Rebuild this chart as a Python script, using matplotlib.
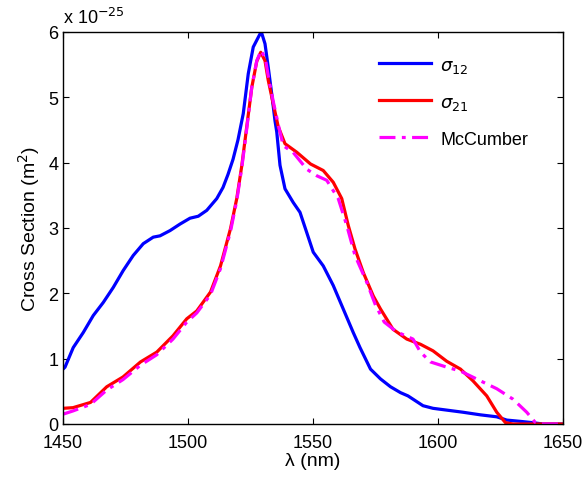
import matplotlib
matplotlib.use("Agg")
import matplotlib.pyplot as plt

plt.rcParams['font.family'] = ['Liberation Sans', 'DejaVu Sans']

# sigma_12 (absorption)
x12 = [1450, 1450.8, 1454.1, 1458.1, 1462.1, 1466.1, 1470.1, 1474.1, 1478.1, 1482.1,
       1486.1, 1488.8, 1492.8, 1496.8, 1500.8, 1504.1, 1507.5, 1511.5, 1514, 1516, 1518,
       1520, 1522.1, 1524.1, 1526.1, 1528.8, 1529.5, 1530.8, 1532.1, 1533.5, 1534.8,
       1535.5, 1536.8, 1538.8, 1542.1, 1544.8, 1547.5, 1550.1, 1554.1, 1558.1, 1562.1,
       1566.1, 1568.8, 1573, 1577, 1581, 1585, 1588, 1590, 1594, 1598, 1604, 1610, 1617,
       1623.5, 1627.5, 1633, 1638, 1642, 1650]
y12 = [0.84, 0.87, 1.17, 1.40, 1.66, 1.86, 2.09, 2.35, 2.58, 2.76,
       2.86, 2.88, 2.96, 3.06, 3.15, 3.18, 3.27, 3.45, 3.62, 3.82, 4.05,
       4.35, 4.75, 5.36, 5.77, 5.97, 5.98, 5.82, 5.46, 5.05, 4.64,
       4.47, 3.96, 3.60, 3.39, 3.24, 2.93, 2.63, 2.42, 2.12, 1.76,
       1.40, 1.17, 0.84, 0.69, 0.57, 0.48, 0.43, 0.38, 0.28, 0.24, 0.21, 0.18, 0.14,
       0.11, 0.06, 0.04, 0.02, 0.0, 0.0]

# sigma_21 (emission)
x21 = [1450, 1454, 1461, 1467.5, 1474, 1481, 1487.5, 1494, 1499.5, 1503.5, 1509, 1513,
       1517, 1519.5, 1521.5, 1523.5, 1525.5, 1527.5, 1529.1, 1530.8, 1532.1, 1534.1,
       1536.1, 1538.8, 1543.5, 1549, 1554.1, 1558.1, 1561.5, 1564.1, 1566.8, 1570.1,
       1574.1, 1577, 1582, 1587.5, 1593, 1598, 1603.5, 1609, 1614, 1619.5, 1623.5,
       1627, 1630, 1650]
y21 = [0.24, 0.25, 0.33, 0.57, 0.72, 0.95, 1.1, 1.35, 1.61, 1.73, 2.02, 2.42,
       2.99, 3.45, 3.95, 4.55, 5.15, 5.55, 5.69, 5.56, 5.26, 4.90,
       4.55, 4.29, 4.16, 3.98, 3.88, 3.70, 3.45, 3.04, 2.68, 2.32,
       1.96, 1.76, 1.45, 1.30, 1.22, 1.12, 0.96, 0.84, 0.66, 0.43, 0.18,
       0.02, 0.0, 0.0]

# McCumber
xmc = [1450, 1454, 1461, 1467.5, 1474, 1481, 1487.5, 1494, 1499.5, 1503.5, 1509, 1513,
       1517, 1519.5, 1521.5, 1523.5, 1525.5, 1527.5, 1529.3, 1531, 1532.3, 1534.3,
       1536.3, 1538.1, 1542, 1547.5, 1551.5, 1555.5, 1560.1, 1563.5, 1566.8, 1571.5,
       1575, 1578.5, 1583.5, 1590, 1593, 1597, 1603.5, 1609, 1617, 1623.5, 1630,
       1635.5, 1639, 1641, 1650]
ymc = [0.15, 0.2, 0.3, 0.52, 0.68, 0.9, 1.06, 1.3, 1.56, 1.7, 1.98, 2.38,
       2.95, 3.42, 3.92, 4.52, 5.15, 5.56, 5.72, 5.58, 5.28, 4.9,
       4.55, 4.26, 4.16, 3.90, 3.80, 3.73, 3.45, 3.04, 2.58, 2.17,
       1.82, 1.56, 1.41, 1.30, 1.10, 0.95, 0.87, 0.81, 0.66, 0.54, 0.38,
       0.18, 0.02, 0.0, 0.0]

fig = plt.figure(figsize=(5.82, 4.81), dpi=100)
ax = fig.add_axes([63/582, 1 - 425/481, 500/582, 392/481])

lw = 2.3
ax.plot(x12, y12, color='#0000ff', lw=lw, label=r'$\sigma_{12}$')
ax.plot(x21, y21, color='#ff0000', lw=lw, label=r'$\sigma_{21}$')
ax.plot(xmc, ymc, color='#ff00ff', lw=lw, dashes=(5, 2, 1.2, 2), label='McCumber')

ax.set_xlim(1450, 1650)
ax.set_ylim(0, 6)
ax.set_xticks([1450, 1500, 1550, 1600, 1650])
ax.set_yticks([0, 1, 2, 3, 4, 5, 6])
ax.tick_params(direction='in', top=True, right=True, labelsize=13, length=4, width=0.8)
ax.tick_params(axis='x', pad=7)
for s in ax.spines.values():
    s.set_linewidth(1.0)

ax.set_xlabel('λ (nm)', fontsize=14, labelpad=1)
ax.set_ylabel('Cross Section (m$^2$)', fontsize=14, labelpad=4)
ax.text(0.0, 1.012, r'x 10$^{-25}$', transform=ax.transAxes, fontsize=13,
        ha='left', va='bottom')

leg = ax.legend(loc='upper left', bbox_to_anchor=(0.632, 0.937), frameon=False,
                fontsize=13, handlelength=2.9, labelspacing=1.05, handletextpad=0.5,
                borderpad=0, borderaxespad=0)

fig.savefig('out.png', dpi=100)
